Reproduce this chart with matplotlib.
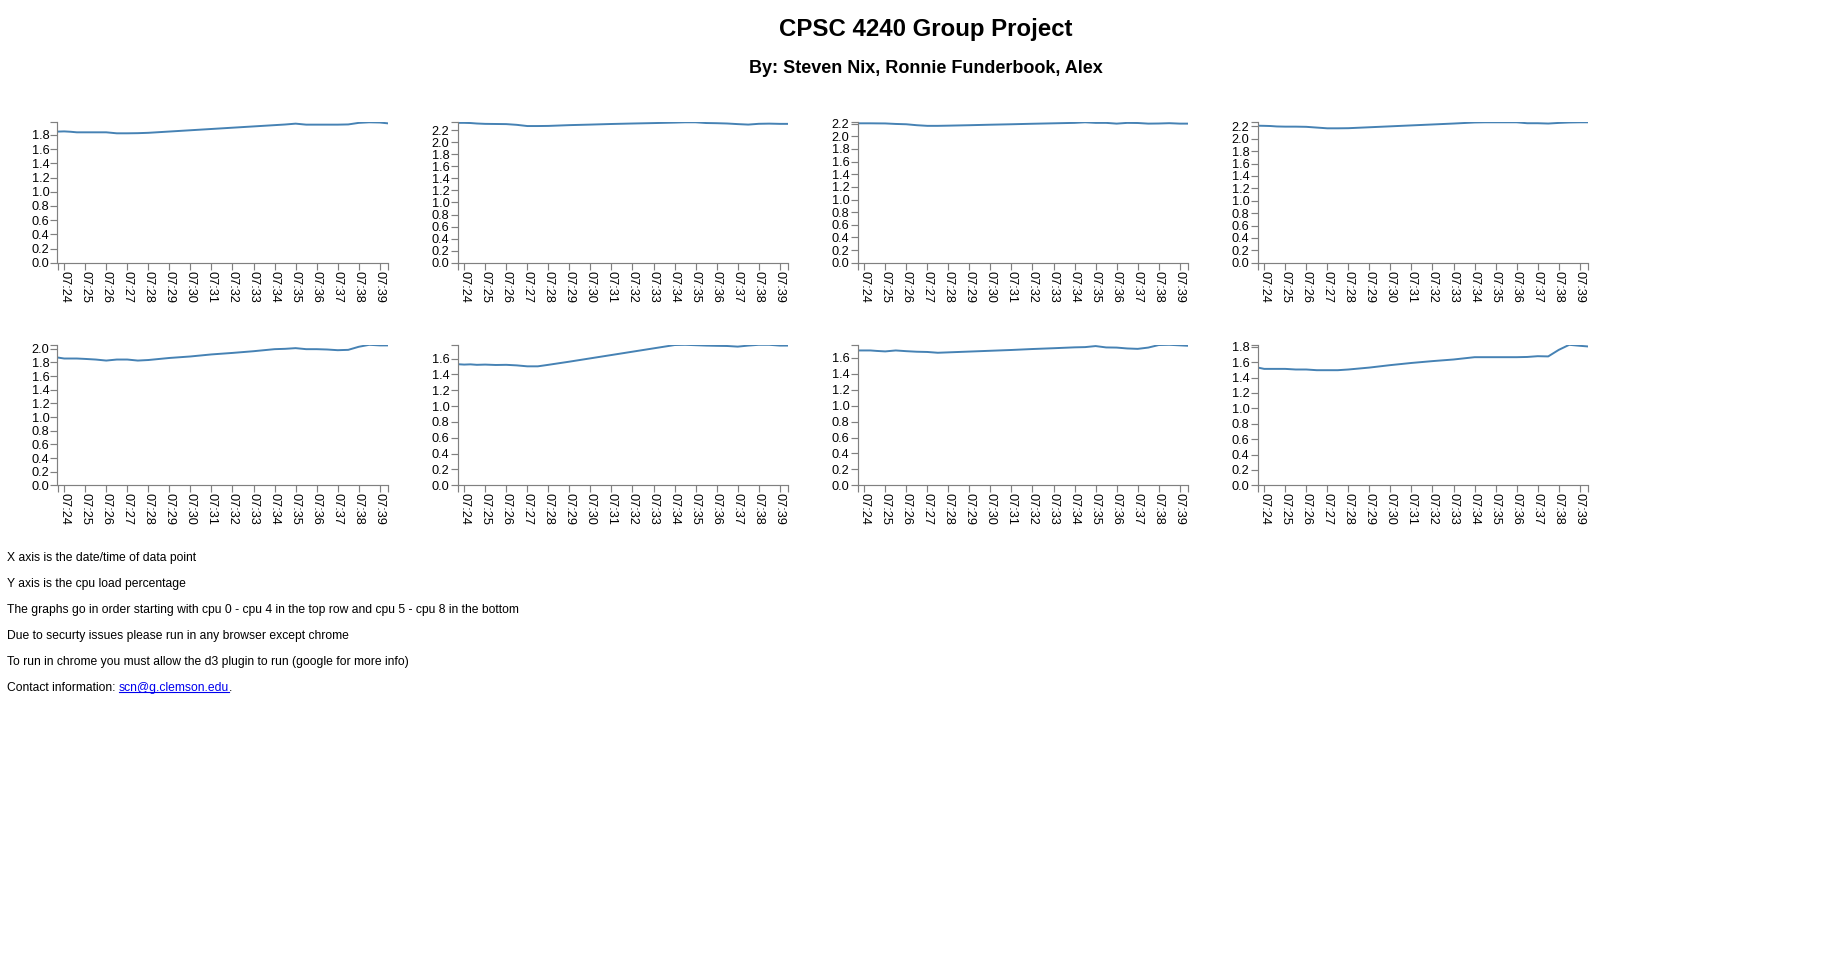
from datetime import datetime
import numpy as np
import matplotlib
matplotlib.use("Agg")
from matplotlib import pyplot as plt
import matplotlib.dates as mdates

W, H = 1828, 958

# sample times (hh:mm:ss) shared by all cpus
sample_times = ["07:23:41", "07:24:00", "07:24:18", "07:24:36", "07:25:00", "07:25:30",
                "07:26:00", "07:26:30", "07:27:00", "07:27:30", "07:28:00", "07:29:00",
                "07:30:00", "07:31:00", "07:32:00", "07:33:00", "07:34:00", "07:34:30",
                "07:35:00", "07:35:30", "07:36:00", "07:36:30", "07:37:00", "07:37:30",
                "07:38:00", "07:38:30", "07:39:00", "07:39:22"]

cpu0 = [1.847, 1.850, 1.845, 1.837, 1.837, 1.837, 1.837, 1.823, 1.823, 1.825,
        1.830, 1.848, 1.866, 1.884, 1.902, 1.920, 1.938, 1.947, 1.959, 1.945,
        1.945, 1.945, 1.945, 1.948, 1.970, 1.978, 1.975, 1.964]
cpu1 = [2.321, 2.321, 2.318, 2.310, 2.304, 2.302, 2.300, 2.288, 2.268, 2.268,
        2.270, 2.283, 2.292, 2.302, 2.310, 2.317, 2.325, 2.330, 2.330, 2.318,
        2.315, 2.310, 2.300, 2.292, 2.305, 2.308, 2.304, 2.304]
cpu2 = [2.205, 2.205, 2.205, 2.204, 2.203, 2.195, 2.190, 2.175, 2.165, 2.165,
        2.168, 2.175, 2.183, 2.190, 2.198, 2.205, 2.212, 2.221, 2.212, 2.212,
        2.200, 2.212, 2.210, 2.200, 2.202, 2.207, 2.200, 2.200]
cpu3 = [2.210, 2.208, 2.205, 2.198, 2.195, 2.195, 2.192, 2.180, 2.168, 2.168,
        2.170, 2.185, 2.200, 2.215, 2.230, 2.245, 2.262, 2.265, 2.265, 2.265,
        2.265, 2.250, 2.250, 2.245, 2.255, 2.262, 2.265, 2.265]
cpu4 = [1.873, 1.858, 1.858, 1.858, 1.852, 1.843, 1.828, 1.843, 1.843, 1.828,
        1.836, 1.866, 1.888, 1.918, 1.940, 1.965, 1.995, 2.000, 2.010, 1.995,
        1.995, 1.990, 1.980, 1.985, 2.030, 2.059, 2.050, 2.050]
cpu5 = [1.530, 1.525, 1.528, 1.522, 1.525, 1.520, 1.522, 1.515, 1.503, 1.503,
        1.522, 1.562, 1.604, 1.646, 1.688, 1.730, 1.772, 1.775, 1.770, 1.765,
        1.762, 1.760, 1.752, 1.765, 1.775, 1.775, 1.765, 1.765]
cpu6 = [1.694, 1.694, 1.694, 1.688, 1.682, 1.694, 1.685, 1.678, 1.675, 1.665,
        1.670, 1.680, 1.690, 1.700, 1.712, 1.722, 1.733, 1.736, 1.749, 1.732,
        1.730, 1.719, 1.714, 1.730, 1.762, 1.765, 1.758, 1.753]
cpu7 = [1.531, 1.513, 1.513, 1.513, 1.513, 1.505, 1.505, 1.496, 1.496, 1.496,
        1.505, 1.530, 1.562, 1.590, 1.614, 1.635, 1.665, 1.665, 1.665, 1.665,
        1.665, 1.668, 1.678, 1.675, 1.760, 1.826, 1.813, 1.805]

cpu_loads = [cpu0, cpu1, cpu2, cpu3, cpu4, cpu5, cpu6, cpu7]

title = "CPSC 4240 Group Project"
subtitle = "By: Steven Nix, Ronnie Funderbook, Alex"
notes = ["X axis is the date/time of data point",
         "Y axis is the cpu load percentage",
         "The graphs go in order starting with cpu 0 - cpu 4 in the top row and cpu 5 - cpu 8 in the bottom",
         "Due to securty issues please run in any browser except chrome",
         "To run in chrome you must allow the d3 plugin to run (google for more info)"]
contact_label = "Contact information:"
contact_link = "scn@g.clemson.edu"

plt.rcParams['font.family'] = ['Liberation Sans', 'DejaVu Sans']

fig = plt.figure(figsize=(W / 100, H / 100), dpi=100)


def px_box(left, top, width, height):
    return [left / W, 1 - (top + height) / H, width / W, height / H]


def fx(x):
    return x / W


def fy(y):
    return 1 - y / H


times = [datetime.strptime("2015-04-20 " + t, "%Y-%m-%d %H:%M:%S") for t in sample_times]
axis_grey = "#808080"
body_size = 8.7

for i, load in enumerate(cpu_loads):
    row, col = divmod(i, 4)
    ax = fig.add_axes(px_box(57.5 + 400 * col, 122.3 + 222.5 * row, 330, 140.5))
    ax.plot(times, load, color="steelblue", lw=1.4, solid_joinstyle="round")

    ymax = max(load)
    ax.set_ylim(0, ymax)
    ax.set_xlim(times[0], times[-1])

    yt = np.arange(0, ymax + 1e-9, 0.2)
    ax.set_yticks(yt)
    ax.set_yticklabels([f"{v:.1f}" for v in yt])
    ax.set_yticks([ymax], minor=True)

    ax.xaxis.set_major_locator(mdates.MinuteLocator())
    ax.xaxis.set_major_formatter(mdates.DateFormatter("%I:%M"))
    ax.set_xticks([mdates.date2num(times[0]), mdates.date2num(times[-1])], minor=True)

    for lab in ax.get_xticklabels():
        lab.set_rotation(270)
        lab.set_ha("center")
        lab.set_va("top")

    for s in ("top", "right"):
        ax.spines[s].set_visible(False)
    for s in ("left", "bottom"):
        ax.spines[s].set_color(axis_grey)
        ax.spines[s].set_linewidth(0.85)

    ax.tick_params(which="both", direction="out", length=4.7, width=0.85,
                   color=axis_grey, labelsize=9.2, labelcolor="black")
    ax.tick_params(axis="y", which="major", pad=1)
    ax.tick_params(axis="x", which="major", pad=1.2)
    ax.patch.set_alpha(0)

fig.text(fx(926), fy(36), title, ha="center", va="baseline",
         fontsize=17.3, fontweight="bold")
fig.text(fx(926), fy(73.3), subtitle, ha="center", va="baseline",
         fontsize=13.0, fontweight="bold")

for k, line in enumerate(notes):
    fig.text(fx(7), fy(560.7 + 26 * k), line, ha="left", va="baseline", fontsize=body_size)

contact_y = 560.7 + 26 * len(notes)
t1 = fig.text(fx(7), fy(contact_y), contact_label, ha="left", va="baseline", fontsize=body_size)
renderer = fig.canvas.get_renderer()
x_link = t1.get_window_extent(renderer).x1 + 3.4
t2 = fig.text(x_link / W, fy(contact_y), contact_link, ha="left", va="baseline",
              fontsize=body_size, color="#0000EE")
x_end = t2.get_window_extent(renderer).x1
fig.text(x_end / W, fy(contact_y), ".", ha="left", va="baseline", fontsize=body_size)
fig.add_artist(plt.Line2D([x_link / W, x_end / W], [fy(contact_y + 1.6)] * 2,
                          color="#0000EE", lw=0.8))

fig.savefig("out.png", dpi=100)
